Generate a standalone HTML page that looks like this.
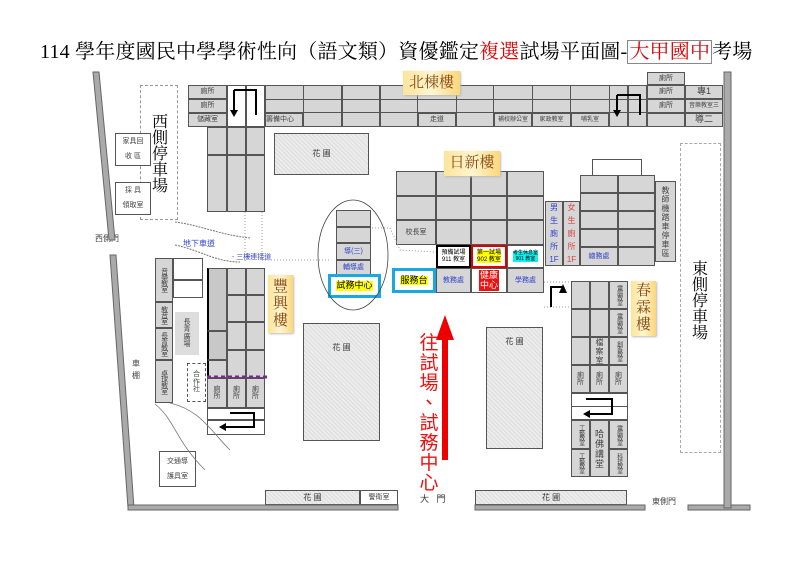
<!DOCTYPE html>
<html><head><meta charset="utf-8">
<style>
body{margin:0;width:800px;height:565px;background:#fff;position:relative;overflow:hidden;font-family:"Liberation Sans","Noto Sans CJK TC",sans-serif}
div{position:absolute;box-sizing:border-box}
.c{background:#d6d6d6;border:1px solid #555;font-size:7px;color:#444;display:flex;align-items:center;justify-content:center;text-align:center;line-height:1.05}
.w{background:#fff}
.g{background:#e6e6e6 repeating-linear-gradient(45deg,#dcdcdc 0 1px,#ececec 1px 3px);border:1px solid #555;font-size:8px;color:#333;display:flex;justify-content:center;padding-top:8px}
.v{writing-mode:vertical-rl;letter-spacing:-1px}
.lbl{background:linear-gradient(90deg,#fde49a,#fff5d0 50%,#fbd77a);color:#8a4a10;font-family:"Liberation Serif","Noto Serif CJK SC",serif;font-size:15px;display:flex;align-items:center;justify-content:center;text-align:center;line-height:17px;box-shadow:1px 1px 2px #bbb}
.b{color:#3344cc}
</style></head><body>
<div style="left:40px;top:35px;width:720px;font-family:'Liberation Serif','Noto Serif CJK SC',serif;font-size:20px;white-space:nowrap;letter-spacing:0.2px">114 學年度國民中學學術性向（語文類）資優鑑定<span style="color:#d00">複選</span>試場平面圖-<span style="color:#d00;border:1px solid #888;padding:0 1px">大甲國中</span>考場</div>

<!-- North building -->
<div class="c" style="left:188px;top:85px;width:39px;height:14px">廁所</div>
<div class="c" style="left:188px;top:99px;width:39px;height:14px">廁所</div>
<div class="c" style="left:188px;top:113px;width:39px;height:14px">儲藏室</div>
<div class="c" style="left:227px;top:85px;width:19px;height:42px;background:transparent"></div>
<div class="c" style="left:246px;top:85px;width:19px;height:42px;background:transparent"></div>
<div class="c" style="left:265px;top:85px;width:458px;height:42px;z-index:-1"></div>
<div class="c" style="left:265px;top:99px;width:458px;height:14px;z-index:-1"></div>
<div class="c" style="left:265px;top:113px;width:38px;height:14px;justify-content:flex-start">籌備中心</div>
<div class="c" style="left:303px;top:85px;width:39px;height:42px;background:transparent"></div>
<div class="c" style="left:342px;top:85px;width:38px;height:42px;background:transparent"></div>
<div class="c" style="left:380px;top:85px;width:38px;height:42px;background:transparent"></div>
<div class="c" style="left:418px;top:113px;width:38px;height:14px">走道</div>
<div class="c" style="left:456px;top:85px;width:38px;height:42px;background:transparent"></div>
<div class="c" style="left:494px;top:113px;width:38px;height:14px;font-size:6px">補校辦公室</div>
<div class="c" style="left:532px;top:113px;width:39px;height:14px;font-size:6px">家政教室</div>
<div class="c" style="left:571px;top:113px;width:38px;height:14px;font-size:6px">哺乳室</div>
<div class="c" style="left:532px;top:85px;width:39px;height:28px;background:transparent"></div>
<div class="c" style="left:609px;top:85px;width:19px;height:42px;background:transparent"></div>
<div class="c" style="left:628px;top:85px;width:19px;height:42px;background:transparent"></div>
<div class="c" style="left:647px;top:72px;width:38px;height:13px">廁所</div>
<div class="c" style="left:647px;top:85px;width:38px;height:14px">廁所</div>
<div class="c" style="left:647px;top:99px;width:38px;height:14px">廁所</div>
<div class="c" style="left:647px;top:113px;width:38px;height:14px;background:transparent"></div>
<div class="c" style="left:685px;top:85px;width:38px;height:14px;font-size:9px">專1</div>
<div class="c" style="left:685px;top:99px;width:38px;height:14px;font-size:6px">音樂教室三</div>
<div class="c" style="left:685px;top:113px;width:38px;height:14px;font-size:9px">導二</div>
<div class="lbl" style="left:403px;top:71px;width:57px;height:24px">北棟樓</div>

<!-- west of north -->
<div class="c" style="left:207px;top:127px;width:20px;height:28px"></div><div class="c" style="left:227px;top:127px;width:19px;height:28px"></div><div class="c" style="left:246px;top:127px;width:19px;height:28px"></div>
<div class="c" style="left:207px;top:155px;width:20px;height:57px"></div><div class="c" style="left:227px;top:155px;width:19px;height:57px"></div><div class="c" style="left:246px;top:155px;width:19px;height:57px"></div>
<div class="g" style="left:274px;top:133px;width:95px;height:42px;padding-top:14px">花 圃</div>
<div style="left:140px;top:85px;width:38px;height:135px;border:1px dashed #999"></div>
<div style="left:152px;top:115px;font-size:16px;font-family:'Liberation Serif','Noto Serif CJK SC',serif;line-height:16px">西<br>側<br>停<br>車<br>場</div>
<div class="c w" style="left:115px;top:133px;width:36px;height:33px;font-size:7px">家具回<br><br>收 區</div>
<div class="c w" style="left:115px;top:182px;width:36px;height:33px;font-size:7px">採 具<br><br>領取室</div>
<div style="left:95px;top:233px;font-size:8px;color:#444">西側門</div>
<div class="b" style="left:183px;top:238px;font-size:8px">地下車道</div>
<div class="b" style="left:232px;top:252px;font-size:7px">‐ 三樓連接道</div>

<!-- circle -->
<div class="c" style="left:336px;top:210px;width:35px;height:17px"></div>
<div class="c" style="left:336px;top:227px;width:35px;height:16px"></div>
<div class="c b" style="left:336px;top:243px;width:35px;height:17px">導(三)</div>
<div class="c b" style="left:336px;top:260px;width:35px;height:15px">輔導處</div>
<div class="c w" style="left:328px;top:274px;width:53px;height:24px;border:3px solid #1aa8e0;font-size:9px;color:#000"><span style="background:#ff0">試務中心</span></div>
<div class="c w" style="left:392px;top:268px;width:44px;height:25px;border:3px solid #1aa8e0;font-size:9px;color:#000"><span style="background:#ff0">服務台</span></div>

<!-- 日新樓 -->
<div class="c" style="left:396px;top:171px;width:40px;height:25px"></div><div class="c" style="left:436px;top:171px;width:35px;height:25px"></div><div class="c" style="left:471px;top:171px;width:36px;height:25px"></div><div class="c" style="left:507px;top:171px;width:37px;height:25px"></div>
<div class="c" style="left:396px;top:196px;width:40px;height:24px"></div><div class="c" style="left:436px;top:196px;width:35px;height:24px"></div><div class="c" style="left:471px;top:196px;width:36px;height:24px"></div><div class="c" style="left:507px;top:196px;width:37px;height:24px"></div>
<div class="c" style="left:396px;top:220px;width:40px;height:25px">校長室</div><div class="c" style="left:436px;top:220px;width:35px;height:25px"></div><div class="c" style="left:471px;top:220px;width:36px;height:25px"></div><div class="c" style="left:507px;top:220px;width:37px;height:25px"></div>
<div class="c w" style="left:436px;top:245px;width:35px;height:23px;border:2px solid #000;font-size:6px;color:#000">預備試場<br>911 教室</div>
<div class="c w" style="left:471px;top:245px;width:36px;height:23px;border:2px solid #d00;font-size:6px;color:#000"><span style="background:#ff0">第一試場<br>902 教室</span></div>
<div class="c w" style="left:507px;top:245px;width:37px;height:23px;font-size:5px;color:#000"><span style="background:#1ee">考生休息室<br>901 教室</span></div>
<div class="c b" style="left:436px;top:268px;width:35px;height:25px">教務處</div>
<div class="c w" style="left:471px;top:268px;width:36px;height:25px"><span style="background:#e11;color:#fff;font-size:9px;padding:1px">健康<br>中心</span></div>
<div class="c b" style="left:507px;top:268px;width:37px;height:25px">學務處</div>
<div class="lbl" style="left:444px;top:151px;width:56px;height:25px">日新樓</div>

<div class="c b" style="left:545px;top:201px;width:18px;height:65px;font-size:8px;line-height:13px">男<br>生<br>廁<br>所<br>1F</div>
<div class="c" style="left:563px;top:201px;width:17px;height:65px;font-size:8px;color:#d44;line-height:13px">女<br>生<br>廁<br>所<br>1F</div>
<div style="left:592px;top:159px;width:50px;height:17px;border:1px solid #555"></div>
<div class="c" style="left:580px;top:175px;width:38px;height:18px"></div><div class="c" style="left:618px;top:175px;width:37px;height:18px"></div>
<div class="c" style="left:580px;top:193px;width:38px;height:18px"></div><div class="c" style="left:618px;top:193px;width:37px;height:18px"></div>
<div class="c" style="left:580px;top:211px;width:38px;height:18px"></div><div class="c" style="left:618px;top:211px;width:37px;height:18px"></div>
<div class="c" style="left:580px;top:229px;width:38px;height:18px"></div><div class="c" style="left:618px;top:229px;width:37px;height:18px"></div>
<div class="c b" style="left:580px;top:247px;width:38px;height:19px">總務處</div><div class="c" style="left:618px;top:247px;width:37px;height:19px"></div>
<div class="c" style="left:655px;top:181px;width:21px;height:81px;font-size:8px;line-height:9px">教<br>師<br>機<br>踏<br>車<br>停<br>車<br>區</div>
<div style="left:680px;top:143px;width:41px;height:310px;border:1px dashed #aaa"></div>
<div style="left:692px;top:262px;font-size:16px;font-family:'Liberation Serif','Noto Serif CJK SC',serif;line-height:16px">東<br>側<br>停<br>車<br>場</div>

<!-- 春霖樓 -->
<div class="c" style="left:571px;top:281px;width:19px;height:28px"></div><div class="c" style="left:590px;top:281px;width:19px;height:28px"></div><div class="c v" style="left:609px;top:281px;width:19px;height:28px;font-size:6px">電腦教室</div>
<div class="c" style="left:571px;top:309px;width:19px;height:28px"></div><div class="c" style="left:590px;top:309px;width:19px;height:28px"></div><div class="c v" style="left:609px;top:309px;width:19px;height:28px;font-size:6px">電腦教室</div>
<div class="c" style="left:571px;top:337px;width:19px;height:28px"></div><div class="c" style="left:590px;top:337px;width:19px;height:28px;font-size:8px;line-height:9px">檔<br>案<br>室</div><div class="c v" style="left:609px;top:337px;width:19px;height:28px;font-size:6px">創客教室</div>
<div class="c" style="left:571px;top:365px;width:19px;height:28px">廁<br>所</div><div class="c" style="left:590px;top:365px;width:19px;height:28px">廁<br>所</div><div class="c" style="left:609px;top:365px;width:19px;height:28px">廁<br>所</div>
<div class="c w" style="left:571px;top:393px;width:57px;height:14px"></div>
<div class="c w" style="left:571px;top:406px;width:57px;height:14px;background:transparent"></div>
<div class="c v" style="left:571px;top:420px;width:19px;height:29px;font-size:6px">工藝教室</div><div class="c v" style="left:571px;top:449px;width:19px;height:28px;font-size:6px">工藝教室</div>
<div class="c" style="left:590px;top:420px;width:19px;height:57px;font-size:9px;line-height:10px">哈<br>佛<br>講<br>堂</div>
<div class="c v" style="left:609px;top:420px;width:19px;height:29px;font-size:6px">電腦教室</div><div class="c v" style="left:609px;top:449px;width:19px;height:28px;font-size:6px">科技教室</div>
<div class="lbl" style="left:631px;top:281px;width:25px;height:55px">春<br>霖<br>樓</div>

<div class="g" style="left:486px;top:327px;width:57px;height:122px">花 圃</div>
<div style="left:418px;top:334px;width:22px;font-size:19px;color:#e11;line-height:20px;text-align:center">往<br>試<br>場<br>、<br>試<br>務<br>中<br>心</div>

<!-- 豐興樓 -->
<div class="c" style="left:207px;top:268px;width:20px;height:63px;background:#c8c8c8;border-left:2px solid #000"></div>
<div class="c" style="left:207px;top:331px;width:20px;height:29px;background:#c8c8c8;border-left:2px solid #000"></div>
<div class="c" style="left:207px;top:360px;width:20px;height:18px;border-left:2px solid #000"></div>
<div class="c" style="left:227px;top:268px;width:19px;height:27px"></div><div class="c" style="left:246px;top:268px;width:19px;height:27px"></div>
<div class="c" style="left:227px;top:295px;width:19px;height:27px"></div><div class="c" style="left:246px;top:295px;width:19px;height:27px"></div>
<div class="c" style="left:227px;top:322px;width:19px;height:28px"></div><div class="c" style="left:246px;top:322px;width:19px;height:28px"></div>
<div class="c" style="left:227px;top:350px;width:19px;height:28px"></div><div class="c" style="left:246px;top:350px;width:19px;height:28px"></div>
<div class="c" style="left:207px;top:378px;width:20px;height:30px">廁<br>所</div><div class="c" style="left:227px;top:378px;width:19px;height:30px">廁<br>所</div><div class="c" style="left:246px;top:378px;width:19px;height:30px">廁<br>所</div>
<div class="c w" style="left:207px;top:408px;width:58px;height:12px;background:transparent"></div>
<div class="c w" style="left:207px;top:420px;width:58px;height:15px;background:transparent"></div>
<div class="lbl" style="left:268px;top:275px;width:25px;height:58px">豐<br>興<br>樓</div>
<div class="g" style="left:303px;top:323px;width:77px;height:118px;padding-top:18px">花 圃</div>

<div class="c v" style="left:155px;top:258px;width:18px;height:44px;font-size:7px">音樂教室</div>
<div class="c v" style="left:155px;top:302px;width:18px;height:26px;font-size:7px">教音室</div>
<div class="c v" style="left:155px;top:328px;width:18px;height:32px;font-size:7px">長青教室</div>
<div class="c v" style="left:155px;top:360px;width:18px;height:43px;font-size:7px">桌球教室</div>
<div class="c w" style="left:173px;top:258px;width:30px;height:22px"></div>
<div class="c w" style="left:173px;top:280px;width:30px;height:18px"></div>
<div class="c" style="left:175px;top:312px;width:24px;height:43px;border:none;background:#ddd;font-size:7px">長<br>青<br>廣<br>場</div>
<div class="c w" style="left:187px;top:363px;width:19px;height:39px;font-size:7px;border-style:dashed">合<br>作<br>社</div>
<div style="left:132px;top:358px;font-size:8px;color:#444;line-height:12px">車<br>棚</div>
<div class="c w" style="left:159px;top:451px;width:37px;height:36px;font-size:7px">交通導<br><br>護具室</div>

<div class="g" style="left:265px;top:490px;width:95px;height:15px;padding-top:1px">花 圃</div>
<div class="c w" style="left:360px;top:490px;width:38px;height:15px">警衛室</div>
<div style="left:420px;top:492px;font-size:9px;color:#333">大 &nbsp; 門</div>
<div class="g" style="left:475px;top:490px;width:152px;height:15px;padding-top:1px">花 圃</div>
<div style="left:652px;top:496px;font-size:8px;color:#444">東側門</div>

<svg style="position:absolute;left:0;top:0" width="800" height="565">
<polygon points="93,72 99,72 115,240 109,240" fill="#aaa" stroke="#666"/>
<polygon points="110,255 116,255 134,508 128,508" fill="#aaa" stroke="#666"/>
<rect x="128" y="505" width="270" height="5" fill="#aaa" stroke="#666"/>
<rect x="475" y="505" width="170" height="5" fill="#aaa" stroke="#666"/>
<rect x="688" y="505" width="62" height="5" fill="#aaa" stroke="#666"/>
<rect x="724" y="72" width="7" height="436" fill="#aaa" stroke="#666"/>
<path d="M175,222 C200,225 220,235 250,238 M175,245 C200,250 215,262 240,262" stroke="#777" fill="none" stroke-dasharray="2,1"/>
<path d="M245,212 V262 M262,212 V260 H330" stroke="#999" fill="none" stroke-dasharray="1,2"/>
<path d="M155,404 C175,420 175,440 205,470 M170,403 C200,410 210,430 230,450" stroke="#777" fill="none" stroke-width="0.8"/>
<path d="M372,228 L390,228 L400,250 L436,252" stroke="#999" fill="none" stroke-dasharray="1,2"/>
<path d="M544,282 L570,282 M544,307 L570,307" stroke="#999" fill="none" stroke-dasharray="1,2"/>
<ellipse cx="353" cy="255" rx="35" ry="55" fill="none" stroke="#444" stroke-width="0.8"/>
<path d="M234,90 H256 V115 M234,90 V110" stroke="#000" stroke-width="2" fill="none"/><polygon points="230,110 238,110 234,117" fill="#000"/>
<path d="M617,95 H640 V115 M617,95 V110" stroke="#000" stroke-width="2" fill="none"/><polygon points="613,110 621,110 617,117" fill="#000"/>
<path d="M230,413 H254 V427 H226" stroke="#000" stroke-width="2" fill="none"/><polygon points="226,423 226,431 219,427" fill="#000"/>
<path d="M586,399 H612 V414 H590" stroke="#000" stroke-width="2" fill="none"/><polygon points="590,410 590,418 583,414" fill="#000"/>
<path d="M551,307 V287 H563 V293" stroke="#000" stroke-width="2" fill="none"/><polygon points="559,293 567,293 563,284" fill="#000"/>
<polygon points="442,460 448,460 448,340 454,340 445,315 436,340 442,340" fill="#e00"/>
<line x1="207" y1="377" x2="268" y2="377" stroke="#7a2a8a" stroke-width="3" stroke-dasharray="4,3"/>
</svg>
</body></html>
